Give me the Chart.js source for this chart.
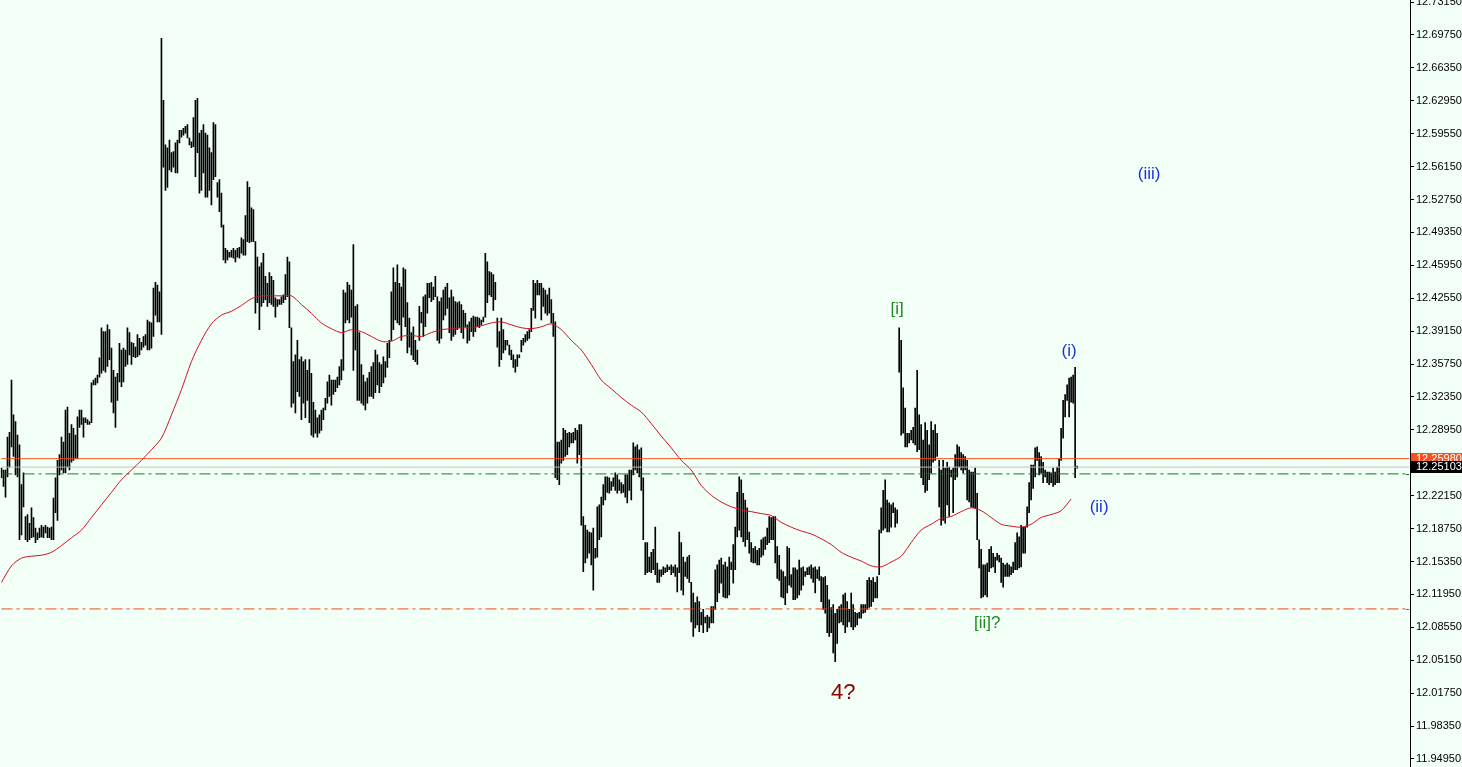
<!DOCTYPE html>
<html>
<head>
<meta charset="utf-8">
<script src="https://cdn.jsdelivr.net/npm/chart.js@4.4.1/dist/chart.umd.min.js"></script>
<style>
  html, body { margin: 0; padding: 0; background: #F2FFF7; }
  #wrap { width: 1462px; height: 767px; position: relative; }
</style>
</head>
<body>
<div id="wrap"><canvas id="chart"></canvas></div>
<script>
// bar highs / lows, one per 2px slot
const highs = [
  12.250, 12.248, 12.248, 12.282, 12.287, 12.341, 12.305, 12.298, 12.284, 12.274,
  12.233, 12.245, 12.200, 12.202, 12.193, 12.209, 12.199, 12.188, 12.183, 12.188,
  12.191, 12.189, 12.191, 12.189, 12.188, 12.189, 12.219, 12.240, 12.258, 12.264,
  12.282, 12.277, 12.310, 12.313, 12.286, 12.295, 12.291, 12.284, 12.303, 12.310,
  12.310, 12.302, 12.302, 12.300, 12.298, 12.338, 12.341, 12.343, 12.346, 12.364,
  12.395, 12.391, 12.391, 12.398, 12.393, 12.374, 12.351, 12.344, 12.348, 12.379,
  12.372, 12.374, 12.372, 12.395, 12.390, 12.380, 12.379, 12.375, 12.388, 12.384,
  12.380, 12.386, 12.388, 12.403, 12.401, 12.400, 12.436, 12.442, 12.439, 12.432,
  12.694, 12.630, 12.584, 12.581, 12.589, 12.576, 12.577, 12.586, 12.589, 12.599,
  12.599, 12.601, 12.603, 12.605, 12.591, 12.587, 12.612, 12.630, 12.632, 12.596,
  12.599, 12.605, 12.596, 12.594, 12.581, 12.576, 12.607, 12.605, 12.545, 12.548,
  12.534, 12.501, 12.477, 12.475, 12.473, 12.475, 12.477, 12.475, 12.477, 12.478,
  12.488, 12.486, 12.511, 12.546, 12.540, 12.519, 12.517, 12.484, 12.468, 12.458,
  12.462, 12.472, 12.448, 12.441, 12.452, 12.448, 12.444, 12.426, 12.424, 12.424,
  12.427, 12.429, 12.450, 12.468, 12.463, 12.395, 12.360, 12.367, 12.382, 12.362,
  12.365, 12.360, 12.362, 12.351, 12.362, 12.348, 12.318, 12.310, 12.302, 12.305,
  12.310, 12.312, 12.322, 12.339, 12.346, 12.341, 12.341, 12.341, 12.344, 12.355,
  12.362, 12.434, 12.431, 12.442, 12.439, 12.434, 12.481, 12.417, 12.419, 12.390,
  12.357, 12.346, 12.339, 12.343, 12.349, 12.355, 12.359, 12.372, 12.367, 12.359,
  12.357, 12.365, 12.360, 12.379, 12.382, 12.432, 12.457, 12.442, 12.460, 12.441,
  12.437, 12.457, 12.455, 12.421, 12.405, 12.390, 12.396, 12.382, 12.372, 12.417,
  12.411, 12.427, 12.429, 12.441, 12.441, 12.442, 12.437, 12.448, 12.427, 12.422,
  12.426, 12.434, 12.437, 12.441, 12.426, 12.434, 12.427, 12.422, 12.421, 12.422,
  12.419, 12.413, 12.410, 12.398, 12.401, 12.405, 12.407, 12.406, 12.406, 12.405,
  12.403, 12.406, 12.472, 12.463, 12.453, 12.452, 12.450, 12.442, 12.405, 12.391,
  12.405, 12.393, 12.382, 12.382, 12.377, 12.372, 12.367, 12.362, 12.367, 12.367,
  12.382, 12.384, 12.388, 12.391, 12.393, 12.415, 12.444, 12.441, 12.444, 12.441,
  12.441, 12.436, 12.434, 12.429, 12.436, 12.424, 12.410, 12.401, 12.277, 12.277,
  12.279, 12.291, 12.289, 12.286, 12.287, 12.286, 12.287, 12.291, 12.289, 12.295,
  12.295, 12.200, 12.191, 12.186, 12.184, 12.183, 12.188, 12.167, 12.210, 12.212,
  12.220, 12.233, 12.241, 12.241, 12.240, 12.236, 12.240, 12.245, 12.243, 12.238,
  12.235, 12.233, 12.243, 12.243, 12.248, 12.248, 12.276, 12.272, 12.274, 12.269,
  12.271, 12.240, 12.173, 12.173, 12.158, 12.163, 12.166, 12.189, 12.152, 12.145,
  12.145, 12.148, 12.147, 12.150, 12.148, 12.150, 12.148, 12.150, 12.147, 12.184,
  12.173, 12.158, 12.153, 12.158, 12.160, 12.132, 12.121, 12.111, 12.117, 12.112,
  12.101, 12.104, 12.096, 12.098, 12.096, 12.107, 12.107, 12.145, 12.150, 12.155,
  12.157, 12.150, 12.153, 12.148, 12.158, 12.153, 12.171, 12.189, 12.225, 12.241,
  12.238, 12.224, 12.217, 12.209, 12.184, 12.173, 12.167, 12.169, 12.165, 12.167,
  12.176, 12.178, 12.179, 12.188, 12.200, 12.199, 12.200, 12.200, 12.169, 12.160,
  12.145, 12.143, 12.138, 12.169, 12.167, 12.140, 12.147, 12.147, 12.145, 12.155,
  12.147, 12.148, 12.143, 12.147, 12.148, 12.150, 12.147, 12.148, 12.145, 12.148,
  12.138, 12.137, 12.138, 12.129, 12.114, 12.106, 12.109, 12.100, 12.104, 12.107,
  12.109, 12.119, 12.121, 12.112, 12.104, 12.121, 12.109, 12.101, 12.100, 12.101,
  12.109, 12.109, 12.109, 12.134, 12.137, 12.134, 12.137, 12.132, 12.138, 12.186,
  12.209, 12.227, 12.238, 12.217, 12.214, 12.212, 12.214, 12.209, 12.207, 12.395,
  12.382, 12.333, 12.312, 12.286, 12.286, 12.289, 12.292, 12.312, 12.351, 12.305,
  12.295, 12.279, 12.297, 12.289, 12.274, 12.298, 12.289, 12.295, 12.286, 12.258,
  12.248, 12.258, 12.250, 12.256, 12.251, 12.248, 12.250, 12.264, 12.274, 12.272,
  12.266, 12.264, 12.262, 12.258, 12.248, 12.246, 12.246, 12.250, 12.224, 12.176,
  12.166, 12.150, 12.150, 12.152, 12.166, 12.169, 12.162, 12.158, 12.162, 12.160,
  12.157, 12.152, 12.150, 12.152, 12.150, 12.148, 12.153, 12.173, 12.183, 12.179,
  12.191, 12.189, 12.189, 12.210, 12.235, 12.253, 12.253, 12.271, 12.272, 12.266,
  12.262, 12.256, 12.248, 12.246, 12.246, 12.245, 12.250, 12.246, 12.251, 12.260,
  12.291, 12.320, 12.326, 12.336, 12.343, 12.344, 12.346, 12.354, 12.252
];
const lows = [
  12.240, 12.231, 12.220, 12.241, 12.251, 12.272, 12.262, 12.243, 12.241, 12.176,
  12.181, 12.210, 12.176, 12.174, 12.176, 12.178, 12.179, 12.173, 12.176, 12.178,
  12.179, 12.178, 12.183, 12.178, 12.178, 12.176, 12.176, 12.204, 12.196, 12.243,
  12.248, 12.245, 12.245, 12.251, 12.248, 12.256, 12.258, 12.260, 12.260, 12.292,
  12.295, 12.282, 12.297, 12.295, 12.295, 12.297, 12.336, 12.336, 12.338, 12.344,
  12.348, 12.351, 12.349, 12.355, 12.362, 12.318, 12.307, 12.292, 12.320, 12.339,
  12.334, 12.339, 12.355, 12.357, 12.367, 12.357, 12.365, 12.364, 12.365, 12.367,
  12.372, 12.375, 12.377, 12.372, 12.372, 12.374, 12.386, 12.408, 12.401, 12.401,
  12.388, 12.561, 12.537, 12.540, 12.558, 12.556, 12.561, 12.555, 12.555, 12.586,
  12.592, 12.594, 12.596, 12.591, 12.584, 12.581, 12.582, 12.551, 12.576, 12.534,
  12.537, 12.555, 12.530, 12.530, 12.537, 12.522, 12.548, 12.551, 12.530, 12.515,
  12.499, 12.465, 12.462, 12.465, 12.468, 12.468, 12.467, 12.463, 12.468, 12.467,
  12.472, 12.470, 12.470, 12.484, 12.483, 12.484, 12.484, 12.410, 12.421, 12.393,
  12.417, 12.421, 12.424, 12.417, 12.421, 12.419, 12.417, 12.406, 12.417, 12.419,
  12.419, 12.421, 12.424, 12.427, 12.395, 12.313, 12.317, 12.307, 12.329, 12.324,
  12.300, 12.317, 12.302, 12.320, 12.297, 12.284, 12.282, 12.286, 12.282, 12.286,
  12.289, 12.300, 12.310, 12.317, 12.324, 12.315, 12.326, 12.329, 12.333, 12.336,
  12.341, 12.351, 12.400, 12.403, 12.400, 12.406, 12.351, 12.372, 12.320, 12.320,
  12.317, 12.315, 12.310, 12.317, 12.324, 12.324, 12.322, 12.328, 12.336, 12.328,
  12.334, 12.338, 12.344, 12.354, 12.364, 12.382, 12.393, 12.403, 12.400, 12.398,
  12.382, 12.406, 12.396, 12.369, 12.375, 12.367, 12.362, 12.360, 12.357, 12.382,
  12.400, 12.386, 12.396, 12.410, 12.426, 12.422, 12.424, 12.427, 12.382, 12.379,
  12.384, 12.403, 12.408, 12.415, 12.390, 12.382, 12.386, 12.388, 12.393, 12.395,
  12.390, 12.384, 12.396, 12.379, 12.382, 12.391, 12.386, 12.391, 12.396, 12.395,
  12.398, 12.401, 12.406, 12.421, 12.429, 12.427, 12.413, 12.424, 12.375, 12.355,
  12.362, 12.369, 12.372, 12.377, 12.367, 12.362, 12.354, 12.349, 12.355, 12.364,
  12.370, 12.377, 12.380, 12.382, 12.384, 12.391, 12.413, 12.405, 12.429, 12.429,
  12.403, 12.417, 12.410, 12.408, 12.410, 12.400, 12.386, 12.240, 12.238, 12.233,
  12.255, 12.258, 12.262, 12.264, 12.272, 12.276, 12.276, 12.279, 12.255, 12.264,
  12.191, 12.143, 12.152, 12.157, 12.162, 12.150, 12.124, 12.157, 12.158, 12.176,
  12.179, 12.212, 12.217, 12.225, 12.224, 12.227, 12.231, 12.227, 12.224, 12.227,
  12.224, 12.225, 12.220, 12.214, 12.227, 12.217, 12.243, 12.248, 12.245, 12.241,
  12.227, 12.176, 12.140, 12.142, 12.143, 12.142, 12.145, 12.140, 12.132, 12.132,
  12.138, 12.140, 12.142, 12.143, 12.145, 12.140, 12.142, 12.138, 12.122, 12.142,
  12.124, 12.119, 12.138, 12.136, 12.132, 12.091, 12.076, 12.085, 12.088, 12.081,
  12.088, 12.080, 12.090, 12.081, 12.085, 12.090, 12.090, 12.104, 12.112, 12.121,
  12.131, 12.117, 12.116, 12.116, 12.119, 12.145, 12.131, 12.145, 12.179, 12.186,
  12.179, 12.174, 12.169, 12.176, 12.162, 12.153, 12.152, 12.152, 12.150, 12.150,
  12.158, 12.160, 12.166, 12.171, 12.173, 12.176, 12.176, 12.152, 12.136, 12.134,
  12.117, 12.116, 12.109, 12.121, 12.129, 12.127, 12.114, 12.114, 12.116, 12.119,
  12.124, 12.129, 12.138, 12.140, 12.140, 12.136, 12.132, 12.121, 12.136, 12.134,
  12.112, 12.104, 12.100, 12.080, 12.076, 12.080, 12.059, 12.050, 12.069, 12.090,
  12.091, 12.088, 12.080, 12.086, 12.091, 12.086, 12.083, 12.086, 12.088, 12.095,
  12.095, 12.100, 12.101, 12.104, 12.106, 12.107, 12.112, 12.116, 12.116, 12.140,
  12.183, 12.186, 12.188, 12.184, 12.184, 12.189, 12.204, 12.189, 12.193, 12.349,
  12.284, 12.286, 12.272, 12.272, 12.276, 12.279, 12.276, 12.274, 12.267, 12.269,
  12.240, 12.233, 12.225, 12.227, 12.238, 12.245, 12.256, 12.258, 12.262, 12.210,
  12.191, 12.196, 12.193, 12.212, 12.200, 12.241, 12.204, 12.238, 12.241, 12.251,
  12.248, 12.245, 12.248, 12.217, 12.215, 12.210, 12.209, 12.209, 12.176, 12.147,
  12.116, 12.117, 12.119, 12.117, 12.143, 12.147, 12.148, 12.142, 12.155, 12.153,
  12.132, 12.127, 12.138, 12.138, 12.138, 12.140, 12.142, 12.145, 12.145, 12.147,
  12.148, 12.162, 12.162, 12.189, 12.204, 12.217, 12.229, 12.241, 12.258, 12.243,
  12.245, 12.235, 12.241, 12.235, 12.233, 12.235, 12.231, 12.233, 12.235, 12.235,
  12.258, 12.281, 12.303, 12.320, 12.303, 12.318, 12.317, 12.240, 12.250
];

// moving average, read every 5th bar
const maStep = 5;
const maValues = [
  12.132, 12.149, 12.157, 12.159, 12.160, 12.163, 12.170, 12.178, 12.186, 12.199,
  12.212, 12.225, 12.238, 12.248, 12.258, 12.269, 12.281, 12.305, 12.331, 12.360,
  12.382, 12.399, 12.408, 12.412, 12.418, 12.425, 12.428, 12.428, 12.428, 12.428,
  12.419, 12.410, 12.400, 12.394, 12.390, 12.393, 12.391, 12.386, 12.381, 12.381,
  12.386, 12.387, 12.386, 12.390, 12.393, 12.394, 12.395, 12.395, 12.397, 12.400,
  12.401, 12.398, 12.395, 12.394, 12.396, 12.399, 12.393, 12.382, 12.372, 12.357,
  12.341, 12.332, 12.323, 12.315, 12.308, 12.296, 12.283, 12.271, 12.258, 12.248,
  12.232, 12.222, 12.215, 12.210, 12.207, 12.205, 12.203, 12.201, 12.194, 12.189,
  12.185, 12.182, 12.177, 12.171, 12.163, 12.158, 12.154, 12.149, 12.148, 12.153,
  12.159, 12.173, 12.186, 12.192, 12.198, 12.200, 12.205, 12.209, 12.206, 12.199,
  12.192, 12.190, 12.189, 12.192, 12.199, 12.202, 12.206, 12.218
];

// horizontal levels: resistance, bid, green dash-dot, orange dash-dot
const levelValues = [12.25980, 12.25103, 12.2440, 12.1045];
// price tags on the axis
const tagValues = [12.25980, 12.25103];
// axis tick values
const priceTicks = [
  11.9495, 11.9835, 12.0175, 12.0515, 12.0855, 12.1195, 12.1535, 12.1875, 12.2215,
  12.2895, 12.3235, 12.3575, 12.3915, 12.4255, 12.4595, 12.4935, 12.5275, 12.5615,
  12.5955, 12.6295, 12.6635, 12.6975, 12.7315
];
// wave labels: text, bar index, price
const waveText = ['[i]', '[ii]?', '(i)', '(ii)', '(iii)', '4?'];
const waveIndex = [448, 493, 534, 549, 574, 421];
const wavePrice = [12.414, 12.090, 12.371, 12.209, 12.554, 12.018];

const SLOTS = 705;
const BG = '#F2FFF7';
const FONT = '"Liberation Sans", Arial, sans-serif';
const waveColor = ['#1F8A1F', '#1F8A1F', '#1E32D2', '#1E32D2', '#1E32D2', '#8B0000'];
const waveFont = ['17px ' + FONT, '17px ' + FONT, '17px ' + FONT, '17px ' + FONT, '17px ' + FONT, '22px ' + FONT];

const labels = Array.from({ length: SLOTS }, (_, i) => i);
const barData = highs.map((h, i) => [lows[i], h]);
const maData = new Array(SLOTS).fill(null);
maValues.forEach((v, k) => { maData[k * maStep] = v; });
const flat = (v) => new Array(SLOTS).fill(v);

const bgPlugin = {
  id: 'bg',
  beforeDraw(chart) {
    const { ctx, width, height } = chart;
    ctx.save();
    ctx.fillStyle = BG;
    ctx.fillRect(0, 0, width, height);
    ctx.restore();
  },
};

const wavePlugin = {
  id: 'waves',
  afterDatasetsDraw(chart) {
    const { ctx, scales: { x, y } } = chart;
    ctx.save();
    ctx.textAlign = 'center';
    ctx.textBaseline = 'middle';
    waveText.forEach((t, k) => {
      ctx.font = waveFont[k];
      ctx.fillStyle = waveColor[k];
      ctx.fillText(t, x.getPixelForValue(waveIndex[k]), y.getPixelForValue(wavePrice[k]));
    });
    ctx.restore();
  },
};

const tagBg = ['#F4511E', '#000000'];
const tagPlugin = {
  id: 'tags',
  afterDraw(chart) {
    const { ctx, chartArea, scales: { y } } = chart;
    ctx.save();
    ctx.font = '11px ' + FONT;
    ctx.textBaseline = 'middle';
    ctx.textAlign = 'left';
    tagValues.forEach((v, k) => {
      const py = Math.round(y.getPixelForValue(v));
      ctx.fillStyle = tagBg[k];
      ctx.fillRect(chartArea.right + 1, py - 6, 52, 12);
      ctx.fillStyle = '#FFFFFF';
      ctx.fillText(v.toFixed(5), chartArea.right + 6, py);
    });
    // small level marks just outside the axis for the dash-dot lines
    [[levelValues[2], '#137313'], [levelValues[3], '#E8401A']].forEach(([v, c]) => {
      const py = Math.round(y.getPixelForValue(v)) + 0.5;
      ctx.strokeStyle = c;
      ctx.beginPath();
      ctx.moveTo(chartArea.right - 4, py);
      ctx.lineTo(chartArea.right - 1, py);
      ctx.stroke();
    });
    ctx.restore();
  },
};

new Chart(document.getElementById('chart'), {
  type: 'bar',
  data: {
    labels,
    datasets: [
      { type: 'line', data: flat(levelValues[0]), borderColor: '#EE4F1C', borderWidth: 1, pointRadius: 0, order: 1 },
      { type: 'line', data: flat(levelValues[1]), borderColor: '#C0C0C0', borderWidth: 1, pointRadius: 0, order: 2 },
      { type: 'line', data: flat(levelValues[2]), borderColor: '#137313', borderWidth: 1, borderDash: [11, 4, 3, 4], pointRadius: 0, order: 1 },
      { type: 'line', data: flat(levelValues[3]), borderColor: '#E8401A', borderWidth: 1, borderDash: [11, 4, 3, 4], pointRadius: 0, order: 1 },
      { type: 'line', data: maData, spanGaps: true, borderColor: '#D01020', borderWidth: 1, pointRadius: 0, tension: 0.3, order: 1 },
      { type: 'bar', data: barData, backgroundColor: '#000000', borderWidth: 0, barThickness: 1, order: 5 },
    ],
  },
  options: {
    responsive: true,
    maintainAspectRatio: false,
    animation: false,
    events: [],
    layout: { autoPadding: false, padding: { left: 0.5, right: 0, top: 0, bottom: 0 } },
    plugins: { legend: { display: false }, tooltip: { enabled: false } },
    scales: {
      x: { display: false, offset: true },
      y: {
        position: 'right',
        min: 11.9412,
        max: 12.7336,
        afterBuildTicks: (s) => { s.ticks = priceTicks.map((v) => ({ value: v })); },
        afterFit: (s) => { s.width = 52; s.paddingTop = 0; s.paddingBottom = 0; },
        border: { display: true, color: '#000000', width: 1 },
        grid: { drawOnChartArea: false, drawTicks: true, tickLength: 4, tickColor: '#000000' },
        ticks: {
          autoSkip: false,
          color: '#000000',
          padding: 2,
          font: { family: FONT, size: 11 },
          callback: (v) => Number(v).toFixed(5),
        },
      },
    },
  },
  plugins: [bgPlugin, wavePlugin, tagPlugin],
});
</script>
</body>
</html>
